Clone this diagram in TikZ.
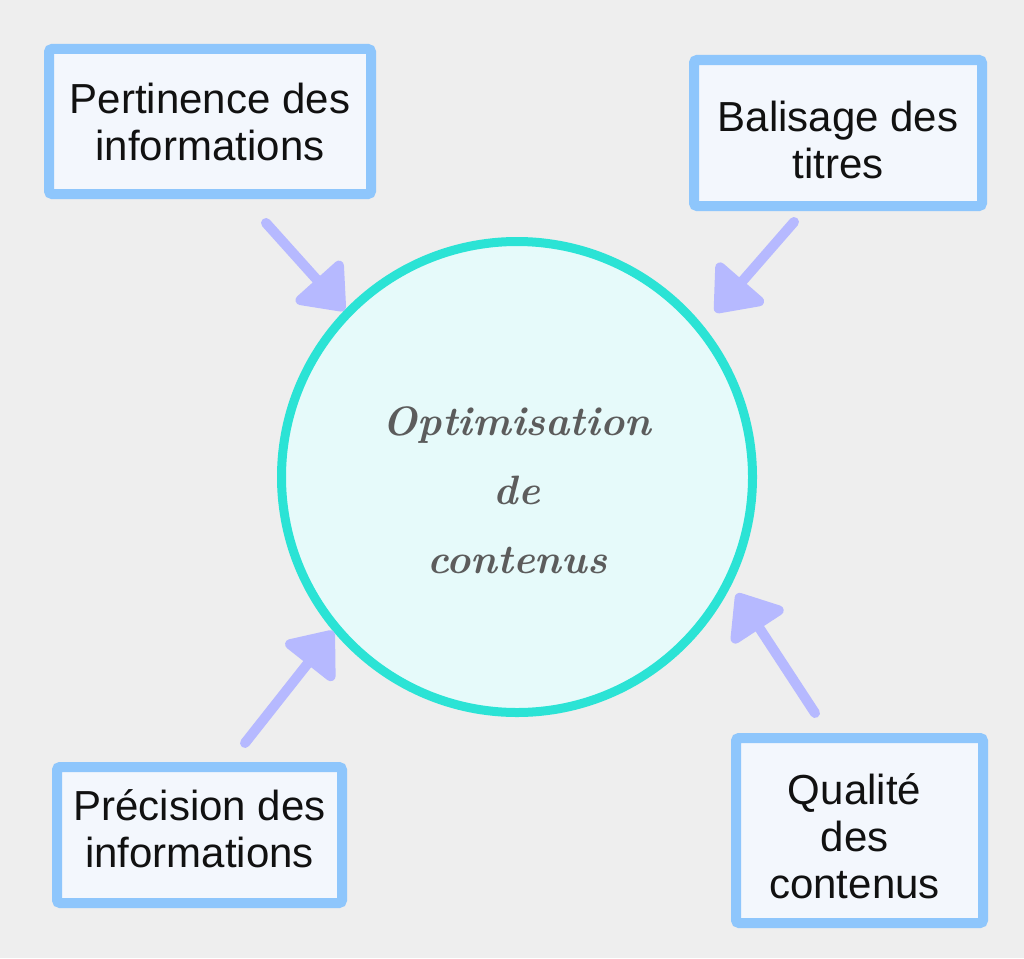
\documentclass[tikz,border=0pt]{standalone}
\usepackage{fontspec}
\newfontfamily\boxfont{Liberation Sans}
\usetikzlibrary{arrows.meta}
\definecolor{bgc}{HTML}{EEEEEE}
\definecolor{boxfill}{HTML}{F3F7FD}
\definecolor{boxline}{HTML}{8EC6FC}
\definecolor{arrowc}{HTML}{B6B9FF}
\definecolor{ringc}{HTML}{2BE3D5}
\definecolor{circfill}{HTML}{E6FAFA}
\definecolor{scriptc}{HTML}{5C5C5C}
\definecolor{textc}{HTML}{111111}
\tikzset{
  infobox/.style={draw=boxline, fill=boxfill, line width=10pt, rounded corners=3pt,
    inner sep=0pt, align=center, text=textc,
    font=\boxfont\fontsize{42}{47}\selectfont},
  hub/.style={circle, draw=ringc, fill=circfill, line width=9pt, minimum size=471pt,
    inner sep=0pt, align=center, text=scriptc,
    font=\fontsize{41}{69}\selectfont\bfseries\itshape},
  conn/.style={draw=arrowc, line width=10pt, line cap=round,
    -{Triangle[length=45pt, width=70pt, round]}}
}
\begin{document}
\begin{tikzpicture}[x=1pt, y=-1pt]
\useasboundingbox (0,0) rectangle (1024,958);
\fill[bgc] (0,0) rectangle (1024,958);
\node[hub] (c) at (517,477) {\rule{0pt}{56pt}Optimisation\\de\\contenus};
\node[infobox, minimum width=322pt, minimum height=145pt] (b1) at (210,121.5) {Pertinence des\\informations};
\node[infobox, minimum width=288pt, minimum height=146pt] (b2) at (838,133) {\rule{0pt}{45pt}Balisage des\\titres};
\node[infobox, minimum width=285pt, minimum height=136pt] (b3) at (199.5,835) {Précision des\\informations\rule[-12pt]{0pt}{12pt}};
\node[infobox, minimum width=247pt, minimum height=185pt] (b4) at (859.5,830.5) {\hbox{\rule{0pt}{43pt}Qualité\kern10pt}\\\hbox{des\kern10pt}\\\hbox{contenus\kern10pt}};
\draw[conn] ([shift={(56,24)}]b1.south) -- (c.136);
\draw[conn] ([shift={(-44,11)}]b2.south) -- ([shift={(14.6,-10.6)}]c.40);
\draw[conn] ([shift={(45.5,-19)}]b3.north) -- (c.220);
\draw[conn] ([shift={(-44.5,-20)}]b4.north) -- ([shift={(8,4)}]c.-28);
\end{tikzpicture}
\end{document}
